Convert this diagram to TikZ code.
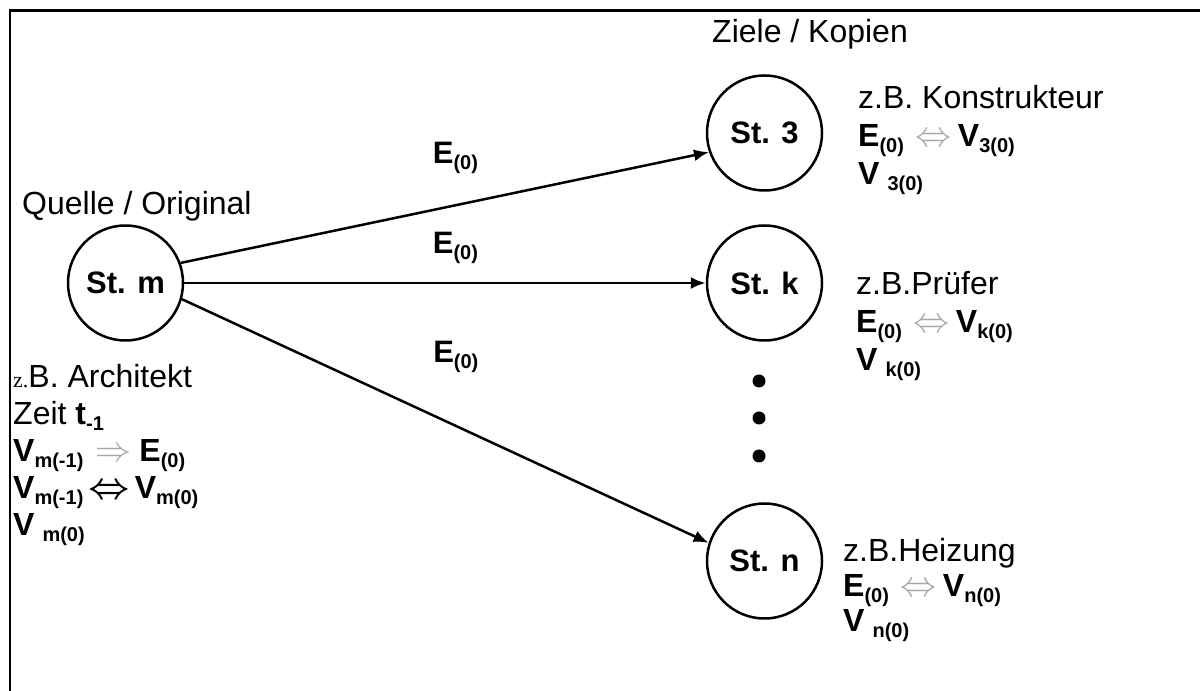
\RequirePackage{fix-cm}
\documentclass[tikz,border=0pt]{standalone}
\usepackage{amsmath}
\usepackage{amssymb}
\usepackage{fontspec}
\setmainfont{Liberation Sans}
\newfontfamily\zfont{Liberation Serif}
\usepackage{tikz}
\usetikzlibrary{arrows.meta}

\newcommand{\idx}[1]{\raisebox{-6pt}{\fontsize{20}{20}\selectfont\bfseries #1}}
\newcommand{\grayarrow}[1]{\smash{\textcolor{gray!70}{\fontsize{36}{36}\selectfont$#1$}}}

\begin{document}
\begin{tikzpicture}[x=1pt, y=1pt, node distance = 639pt,
  >={Latex[length=15pt,width=12pt]},
  station/.style={circle, draw, line width=2.5pt, minimum size=115pt, inner sep=0pt,
    font=\bfseries\fontsize{31}{31}\selectfont},
  txt/.style={align=left, inner sep=0pt, font=\fontsize{32}{38}\selectfont},
  lbl/.style={inner sep=0pt, font=\bfseries\fontsize{31}{31}\selectfont},
  dot/.style={circle, fill, inner sep=0pt, minimum size=13pt}]
\useasboundingbox (0,0) rectangle (1200,691);
\draw[line width=2.5pt] (10,0) -- (10,680.5) -- (1200,680.5);

% Stationen
\node[station] (st_m) at (125.5,408) {St. m};
\node[station] (st_k) [right of = st_m] {St. k};
\node[station] (st_3) [above of = st_k, node distance = 150pt] {St. 3};
\node[station] (st_n) [below of = st_k, node distance = 278pt] {St. n};

\foreach \y [count=\i] in {310,273,235}
  \node[dot] (dot\i) at (759,\y) {};

\path[->, line width=2.5pt] (st_m.20) edge node[lbl, pos=0.52, above=30pt] {E\idx{(0)}} (st_3.199.5)
    (st_m) edge node[lbl, pos=0.52, above=18pt] {E\idx{(0)}} (st_k)
    (st_m.344) edge node[lbl, pos=0.52, above=52pt] {E\idx{(0)}} (st_n.162);

% Texte
\node[txt, anchor=base west] (quelle) at (22,476) {Quelle / Original};
\node[txt, anchor=base west] (ziele) at (712,648) {Ziele / Kopien};

\node[txt, anchor=north west, font=\fontsize{32}{37}\selectfont] (arch) at (13,327)
  {{\zfont\fontsize{22}{22}\selectfont z.}B. Architekt\\
   Zeit \textbf{t}\idx{-1}\\
   \textbf{V}\idx{m(-1)}\hspace{12pt}\grayarrow{\Rightarrow}\hspace{8pt}\textbf{E}\idx{(0)}\\
   \textbf{V}\idx{m(-1)}\hspace{5pt}\smash{\fontsize{36}{36}\selectfont$\boldsymbol{\Leftrightarrow}$}\hspace{5pt}\textbf{V}\idx{m(0)}\\
   \textbf{V}\hspace{8pt}\idx{m(0)}};

\node[txt, anchor=north west] (konstr) at (858,606)
  {z.B. Konstrukteur\\
   \textbf{E}\idx{(0)}\hspace{12pt}\grayarrow{\Leftrightarrow}\hspace{6pt}\textbf{V}\idx{3(0)}\\
   \textbf{V}\hspace{8pt}\idx{3(0)}};
\node[txt, anchor=north west] (pruef) at (856,420)
  {z.B.Pr\"ufer\\
   \textbf{E}\idx{(0)}\hspace{12pt}\grayarrow{\Leftrightarrow}\hspace{6pt}\textbf{V}\idx{k(0)}\\
   \textbf{V}\hspace{8pt}\idx{k(0)}};
\node[txt, anchor=north west, font=\fontsize{32}{35}\selectfont] (heiz) at (843,153)
  {z.B.Heizung\\
   \textbf{E}\idx{(0)}\hspace{12pt}\grayarrow{\Leftrightarrow}\hspace{6pt}\textbf{V}\idx{n(0)}\\
   \textbf{V}\hspace{8pt}\idx{n(0)}};
\end{tikzpicture}
\end{document}
